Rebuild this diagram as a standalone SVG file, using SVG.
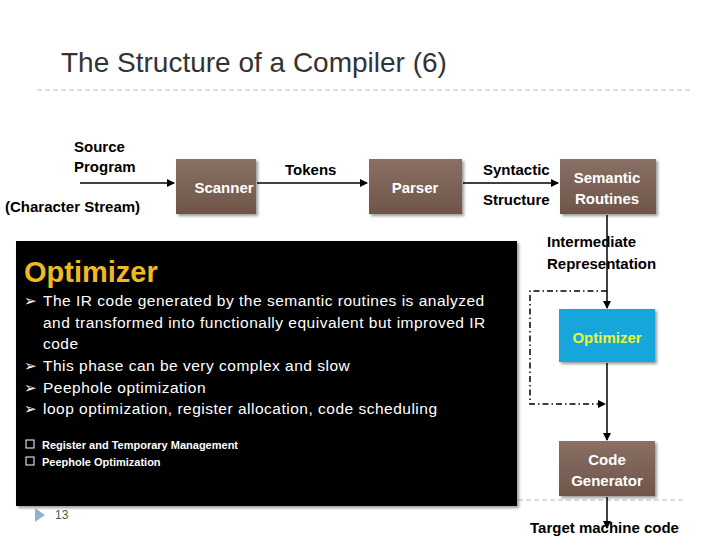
<svg xmlns="http://www.w3.org/2000/svg" width="720" height="540" viewBox="0 0 720 540">
<defs>
<marker id="ah" markerWidth="8" markerHeight="8" refX="7" refY="4" orient="auto" markerUnits="userSpaceOnUse"><path d="M0,0 L8,4 L0,8 z" fill="#000"/></marker>
<filter id="sh"><feDropShadow dx="2" dy="2" stdDeviation="1.5" flood-opacity="0.4"/></filter>
<linearGradient id="br" x1="0" y1="0" x2="0" y2="1"><stop offset="0" stop-color="#8a7064"/><stop offset="1" stop-color="#6e5549"/></linearGradient>
</defs>
<style>
text{font-family:"Liberation Sans",Arial,sans-serif}
.lb{font-size:15px;font-weight:bold;fill:#000}
.nb{font-size:15px;font-weight:bold;fill:#fff}
.ln{stroke:#000;stroke-width:1.5;fill:none}
.bt{font-size:15.5px;fill:#fff;letter-spacing:0.5px}
.bu{font-size:15px;fill:#fff;font-family:"DejaVu Sans",sans-serif}
.sm{font-size:11px;font-weight:bold;fill:#fff}
</style>
<rect width="720" height="540" fill="#fff"/>
<text x="61" y="72" font-size="28" fill="#333">The Structure of a Compiler (6)</text>
<line x1="37" y1="90" x2="690" y2="90" stroke="#bbb" stroke-dasharray="5,3"/>
<line x1="518" y1="500" x2="685" y2="500" stroke="#bbb" stroke-dasharray="5,3"/>
<g id="connectors">
<line class="ln" x1="80" y1="183" x2="174" y2="183" marker-end="url(#ah)"/>
<line class="ln" x1="257" y1="183" x2="367" y2="183" marker-end="url(#ah)"/>
<line class="ln" x1="463" y1="183" x2="558" y2="183" marker-end="url(#ah)"/>
<line class="ln" x1="607" y1="215" x2="607" y2="308" marker-end="url(#ah)"/>
<line class="ln" x1="607" y1="363" x2="607" y2="440" marker-end="url(#ah)"/>
<line class="ln" x1="607" y1="497" x2="607" y2="528" marker-end="url(#ah)"/>
<path class="ln" d="M607,291 H530 V404 H605" stroke-dasharray="6,3,1.5,3" marker-end="url(#ah)"/>
</g>
<text class="lb" x="74" y="152">Source</text>
<text class="lb" x="74" y="172">Program</text>
<text class="lb" x="5" y="212">(Character Stream)</text>
<text class="lb" x="285" y="175">Tokens</text>
<text class="lb" x="483" y="175">Syntactic</text>
<text class="lb" x="483" y="205">Structure</text>
<text class="lb" x="547" y="247">Intermediate</text>
<text class="lb" x="547" y="269">Representation</text>
<text class="lb" x="530" y="533">Target machine code</text>
<g id="scanner"><rect x="176" y="159" width="80" height="55" fill="url(#br)" filter="url(#sh)"/><text class="nb" x="224" y="193" text-anchor="middle">Scanner</text></g>
<g id="parser"><rect x="369" y="159" width="93" height="55" fill="url(#br)" filter="url(#sh)"/><text class="nb" x="415" y="193" text-anchor="middle">Parser</text></g>
<g id="semantic"><rect x="560" y="159" width="96" height="55" fill="url(#br)" filter="url(#sh)"/><text class="nb" x="607" y="183" text-anchor="middle">Semantic</text><text class="nb" x="607" y="204" text-anchor="middle">Routines</text></g>
<g id="optimizer"><rect x="559" y="309" width="96" height="53" fill="#17a6dc" filter="url(#sh)"/><text x="607" y="343" text-anchor="middle" font-size="15" font-weight="bold" fill="#e8f53a">Optimizer</text></g>
<g id="codegen"><rect x="559" y="441" width="96" height="55" fill="url(#br)" filter="url(#sh)"/><text class="nb" x="607" y="465" text-anchor="middle">Code</text><text class="nb" x="607" y="486" text-anchor="middle">Generator</text></g>
<g id="panel">
<rect x="16" y="241" width="501" height="265" fill="#000" filter="url(#sh)"/>
<text x="24" y="282" font-size="29" font-weight="bold" fill="#f0b923">Optimizer</text>
<text class="bu" x="24" y="306">➢</text><text class="bt" x="43" y="306">The IR code generated by the semantic routines is analyzed</text>
<text class="bt" x="43" y="328">and transformed into functionally equivalent but improved IR</text>
<text class="bt" x="43" y="349">code</text>
<text class="bu" x="24" y="371">➢</text><text class="bt" x="43" y="371">This phase can be very complex and slow</text>
<text class="bu" x="24" y="393">➢</text><text class="bt" x="43" y="393">Peephole optimization</text>
<text class="bu" x="24" y="414">➢</text><text class="bt" x="43" y="414">loop optimization, register allocation, code scheduling</text>
<rect x="26" y="440" width="8" height="8" fill="none" stroke="#fff"/>
<text class="sm" x="42" y="449">Register and Temporary Management</text>
<rect x="26" y="457" width="8" height="8" fill="none" stroke="#fff"/>
<text class="sm" x="42" y="466">Peephole Optimization</text>
</g>
<path d="M35,508 L45,515 L35,522 z" fill="#8fb0d0"/>
<text x="55" y="519" font-size="12" fill="#555">13</text>
</svg>
